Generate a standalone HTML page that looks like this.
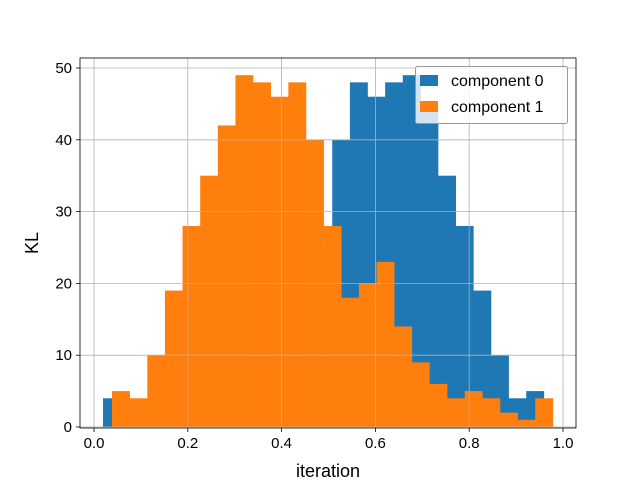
<!DOCTYPE html>
<html><head><meta charset="utf-8"><style>body{margin:0;background:#fff}svg{display:block;font-family:"Liberation Sans","DejaVu Sans",sans-serif}</style></head>
<body>
<svg id="chart" width="640" height="480"></svg>
<script>
const binStart0 = 0.0192;
const binStart1 = 0.0384;
const binWidth = 0.0376;
const counts0 = [4,1,2,4,5,4,6,9,14,23,20,18,25,40,48,46,48,49,44,35,28,19,10,4,5];
const counts1 = [5,4,10,19,28,35,42,49,48,46,48,40,28,18,20,23,14,9,6,4,5,4,2,1,4];
const xTicks = [0,0.2,0.4,0.6,0.8,1.0];
const xTickLabels = ["0.0","0.2","0.4","0.6","0.8","1.0"];
const yTicks = [0,10,20,30,40,50];
const seriesNames = ["component 0","component 1"];
const colors = ["#1f77b4","#ff7f0e"];

const NS="http://www.w3.org/2000/svg";
const svg=document.getElementById('chart');
const L=80,R=576,T=58,B=428;
const xs=v=>94+v*469;
const ys=v=>427-v*7.18;
function mk(tag,attrs,parent){const e=document.createElementNS(NS,tag);for(const k in attrs)e.setAttribute(k,attrs[k]);(parent||svg).appendChild(e);return e;}

const gBars=mk('g',{});


[[counts0,binStart0,0],[counts1,binStart1,1]].forEach(([cs,s,si])=>{
  cs.forEach((c,i)=>{
    const x0=xs(s+i*binWidth),x1=xs(s+(i+1)*binWidth);
    const r=mk('rect',{x:x0,y:ys(c),width:x1-x0+0.3,height:ys(0)-ys(c),fill:colors[si]},gBars);
    
    
  });
});
// grid
xTicks.forEach((t,i)=>{
  const g=mk('line',{x1:xs(t),x2:xs(t),y1:T,y2:B,stroke:'#b0b0b0','stroke-width':0.8});
  
  
  const tk=mk('line',{x1:xs(t),x2:xs(t),y1:B,y2:B+4,stroke:'#000','stroke-width':0.8});
  
  
  const tx=mk('text',{x:xs(t),y:B+20,'text-anchor':'middle','font-size':15,fill:'#000'});
  tx.textContent=xTickLabels[i];
  
  
});
yTicks.forEach(t=>{
  const g=mk('line',{x1:L,x2:R,y1:ys(t),y2:ys(t),stroke:'#b0b0b0','stroke-width':0.8});
  
  
  const tk=mk('line',{x1:L-4,x2:L,y1:ys(t),y2:ys(t),stroke:'#000','stroke-width':0.8});
  
  
  const tx=mk('text',{x:L-8,y:ys(t)+5,'text-anchor':'end','font-size':15,fill:'#000'});
  tx.textContent=String(t);
  
  
});
const frame=mk('rect',{x:L,y:T,width:R-L,height:B-T,fill:'none',stroke:'#000','stroke-width':0.8});


const xl=mk('text',{x:328,y:477,'text-anchor':'middle','font-size':18});
xl.textContent='iteration';


const yl=mk('text',{x:38,y:243,'text-anchor':'middle','font-size':18,transform:'rotate(-90 38 243)'});
yl.textContent='KL';


// legend
const lg=mk('g',{});


mk('rect',{x:415.5,y:66.5,width:152,height:57,rx:2,fill:'#fff','fill-opacity':0.8,stroke:'#999'},lg);
seriesNames.forEach((n,i)=>{
  const e=mk('g',{},lg);
  
  
  mk('rect',{x:420,y:75+i*26,width:18,height:11,fill:colors[i]},e);
  const t=mk('text',{x:451,y:86+i*26,'font-size':16},e);
  t.textContent=n;
});
</script>
</body></html>
